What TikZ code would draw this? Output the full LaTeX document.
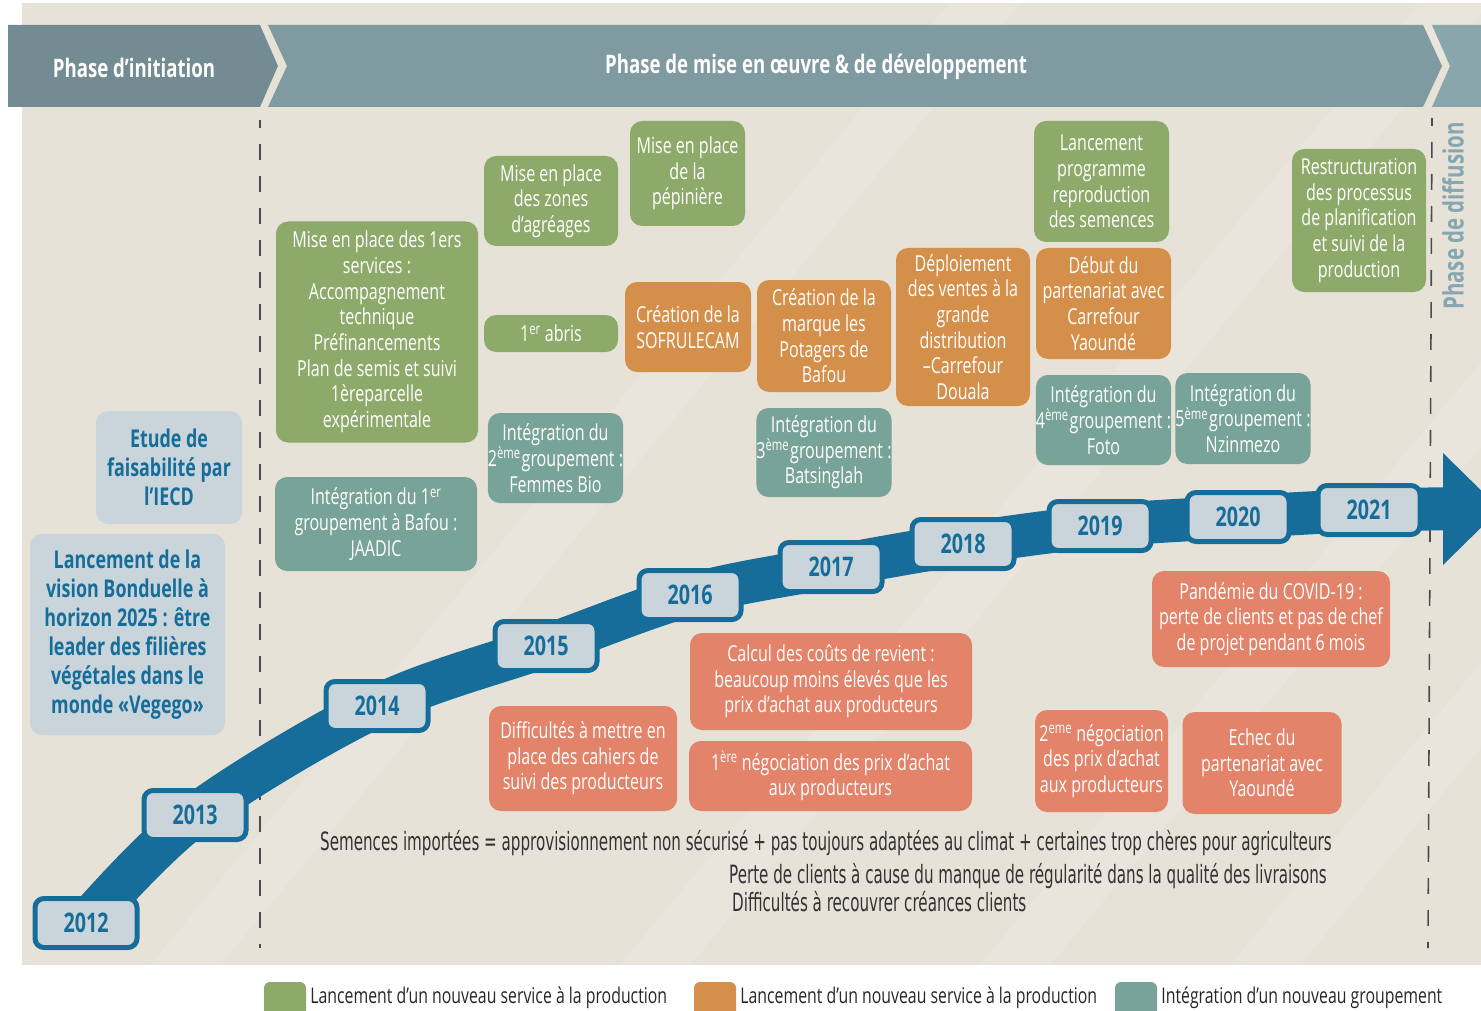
\documentclass[tikz,border=0pt]{standalone}
\usepackage{fontspec}
\setmainfont{Open Sans}[FakeStretch=0.73]
\newfontfamily\narrowfont{DejaVu Sans}[FakeStretch=0.6]
\usetikzlibrary{positioning}
\definecolor{beige}{HTML}{E6E2D8}
\definecolor{slatedark}{HTML}{738C93}
\definecolor{slatemid}{HTML}{7F9AA0}
\definecolor{slatelight}{HTML}{88A6AC}
\definecolor{deepblue}{HTML}{176D9A}
\definecolor{mist}{HTML}{C9D5DA}
\definecolor{leaf}{HTML}{8DAA6B}
\definecolor{ochre}{HTML}{D48F4A}
\definecolor{tealg}{HTML}{77A399}
\definecolor{salmon}{HTML}{E2836A}
\definecolor{diffblue}{HTML}{86A6B1}
\tikzset{
  evbox/.style={rounded corners=12pt, inner sep=0pt, align=center, text=white,
    font=\fontsize{22}{25.7}\selectfont},
  sz/.style 2 args={minimum width=#1pt, minimum height=#2pt},
  leafbox/.style={evbox, fill=leaf},
  ochrebox/.style={evbox, fill=ochre},
  tealbox/.style={evbox, fill=tealg},
  riskbox/.style={evbox, fill=salmon},
  visionbox/.style={evbox, fill=mist, text=deepblue, font=\bfseries\fontsize{24.5}{29}\selectfont},
  yearbox/.style={draw=deepblue, line width=5pt, fill=mist, rounded corners=9pt,
    minimum width=102pt, minimum height=49pt, inner sep=0pt, text=deepblue,
    font=\bfseries\fontsize{27}{30}\selectfont},
  band/.style={draw=deepblue, line width=43pt},
  phasesep/.style={draw=black!70, line width=1.6pt, dash pattern=on 16pt off 16pt, dash phase=8pt},
  phasetext/.style={text=white, inner sep=0pt, font=\bfseries\fontsize{25.5}{30}\selectfont},
  legsq/.style={fill=#1, rounded corners=6pt, minimum width=42pt, minimum height=40pt, inner sep=0pt},
  legtext/.style={font=\fontsize{21.7}{24}\selectfont, text=black!85, inner sep=0pt},
  note/.style={font=\narrowfont\fontsize{25.2}{28}\selectfont, text=black!80, inner sep=0pt}
}
\begin{document}
\begin{tikzpicture}[x=1pt,y=-1pt]
\useasboundingbox (0,0) rectangle (1481,1011);
\fill[beige] (22,3) rectangle (1481,965);
\begin{scope}
\clip (22,3) rectangle (1481,965);
\foreach \s in {150,620,980,1230}
  \fill[white, opacity=0.13] (\s,965) -- (\s+70,965) -- (\s+870,3) -- (\s+800,3) -- cycle;
\end{scope}
% phase banner
\fill[slatedark] (8,25) -- (260,25) -- (278,66) -- (260,107) -- (8,107) -- cycle;
\fill[slatemid] (268,25) -- (1423,25) -- (1442,66) -- (1423,107) -- (268,107) -- (287,66) -- cycle;
\fill[slatelight] (1432,25) -- (1481,25) -- (1481,107) -- (1432,107) -- (1450,66) -- cycle;
\node[phasetext] (phaseinit) at (134,68) {Phase d’initiation};
\node[phasetext] (phasemise) at (816,67) {Phase de mise en œuvre \& de développement};
\node[rotate=90, inner sep=0pt, text=diffblue, font=\bfseries\fontsize{28}{32}\selectfont] (diffusion) at (1453,216) {Phase de diffusion};
\draw[phasesep] (260,120) -- (260,948);
\draw[phasesep] (1432,118) -- (1428,948);
% timeline
\coordinate (c2012) at (86,923);
\coordinate (c2013) at (195,815);
\coordinate (c2014) at (377,706);
\coordinate (c2015) at (546,646);
\coordinate (c2016) at (690,595);
\coordinate (c2017) at (831,567);
\coordinate (c2018) at (963,544);
\coordinate (c2019) at (1100,526);
\coordinate (c2020) at (1238,517);
\coordinate (c2021) at (1369,510);
\coordinate (tipbase) at (1445,509);
\draw[band] plot[smooth, tension=0.55] coordinates {(c2012) (c2013) (c2014) (c2015) (c2016) (c2017) (c2018) (c2019) (c2020) (c2021) (tipbase)};
\fill[deepblue] (1443,453) -- (1500,509) -- (1443,565) -- cycle;
\foreach \yr in {2012,2013,2014,2015,2016,2017,2018,2019,2020,2021}
  \node[yearbox] (y\yr) at (c\yr) {\yr};
% initiation
\node[visionbox, sz={146}{113}] (etude) at (169,467.5) {Etude de\\faisabilité par\\l’IECD};
\node[visionbox, sz={195}{201}] (vision) at (127.5,634.5) {Lancement de la\\vision Bonduelle à\\horizon 2025 : être\\leader des filières\\végétales dans le\\monde «Vegego»};
% services
\node[leafbox, sz={202}{221}] (services) at (377,332) {Mise en place des 1ers\\services :\\Accompagnement\\technique\\Préfinancements\\Plan de semis et suivi\\1èreparcelle\\expérimentale};
\node[leafbox, sz={134}{90}] (agreage) at (551,201) {Mise en place\\des zones\\d’agréages};
\node[leafbox, sz={115}{105}] (pepiniere) at (687.5,173.5) {Mise en place\\de la\\pépinière};
\node[leafbox, sz={134}{37}] (abris) at (551,333.5) {1\textsuperscript{er} abris};
\node[leafbox, sz={135}{121}] (semences) at (1101.5,181.5) {Lancement\\programme\\reproduction\\des semences};
\node[leafbox, sz={134}{143}] (restruct) at (1359,220.5) {Restructuration\\des processus\\de planification\\et suivi de la\\production};
% commercial
\node[ochrebox, sz={126}{90}] (sofrulecam) at (688,327) {Création de la\\SOFRULECAM};
\node[ochrebox, sz={134}{112}] (marque) at (824,336) {Création de la\\marque les\\Potagers de\\Bafou};
\node[ochrebox, sz={134}{158}] (douala) at (963,327) {Déploiement\\des ventes à la\\grande\\distribution\\–Carrefour\\Douala};
\node[ochrebox, sz={135}{111}] (yaounde) at (1103.5,303.5) {Début du\\partenariat avec\\Carrefour\\Yaoundé};
% groupements
\node[tealbox, sz={202}{94}] (grp1) at (376,524) {Intégration du 1\textsuperscript{er}\\groupement à Bafou :\\JAADIC};
\node[tealbox, sz={135}{90}] (grp2) at (555.5,458) {Intégration du\\2\textsuperscript{ème}\kern1pt groupement :\\Femmes Bio};
\node[tealbox, sz={134}{89}] (grp3) at (824,452.5) {Intégration du\\3\textsuperscript{ème}\kern1pt groupement :\\Batsinglah};
\node[tealbox, sz={135}{90}] (grp4) at (1103.5,420) {Intégration du\\4\textsuperscript{ème}\kern1pt groupement :\\Foto};
\node[tealbox, sz={134}{91}] (grp5) at (1243,418.5) {Intégration du\\5\textsuperscript{ème}\kern1pt groupement :\\Nzinmezo};
% difficultes
\node[riskbox, sz={188}{105}] (cahiers) at (583,758.5) {Difficultés à mettre en\\place des cahiers de\\suivi des producteurs};
\node[riskbox, sz={282}{97}] (couts) at (831,681.5) {Calcul des coûts de revient :\\beaucoup moins élevés que les\\prix d’achat aux producteurs};
\node[riskbox, sz={283}{70}] (nego1) at (830.5,776) {1\textsuperscript{ère} négociation des prix d’achat\\aux producteurs};
\node[riskbox, sz={133}{102}] (nego2) at (1101.5,761) {2\textsuperscript{eme} négociation\\des prix d’achat\\aux producteurs};
\node[riskbox, sz={159}{102}] (echec) at (1262,763) {Echec du\\partenariat avec\\Yaoundé};
\node[riskbox, sz={238}{96}] (covid) at (1271,619) {Pandémie du COVID-19 :\\perte de clients et pas de chef\\de projet pendant 6 mois};
\node[note, anchor=west] (imports) at (320,843) {Semences importées = approvisionnement non sécurisé + pas toujours adaptées au climat + certaines trop chères pour agriculteurs};
\node[note, anchor=east] (clients) at (1327,876) {Perte de clients à cause du manque de régularité dans la qualité des livraisons};
\node[note, anchor=west] (creances) at (732,902) {Difficultés à recouvrer créances clients};
% legende
\node[legsq=leaf] (lg1) at (285,1002) {};
\node[legtext, right=4pt of lg1, yshift=4pt] (lt1) {Lancement d’un nouveau service à la production};
\node[legsq=ochre] (lg2) at (715,1002) {};
\node[legtext, right=4pt of lg2, yshift=4pt] (lt2) {Lancement d’un nouveau service à la production};
\node[legsq=tealg] (lg3) at (1136,1002) {};
\node[legtext, right=4pt of lg3, yshift=4pt] (lt3) {Intégration d’un nouveau groupement};
\end{tikzpicture}
\end{document}
